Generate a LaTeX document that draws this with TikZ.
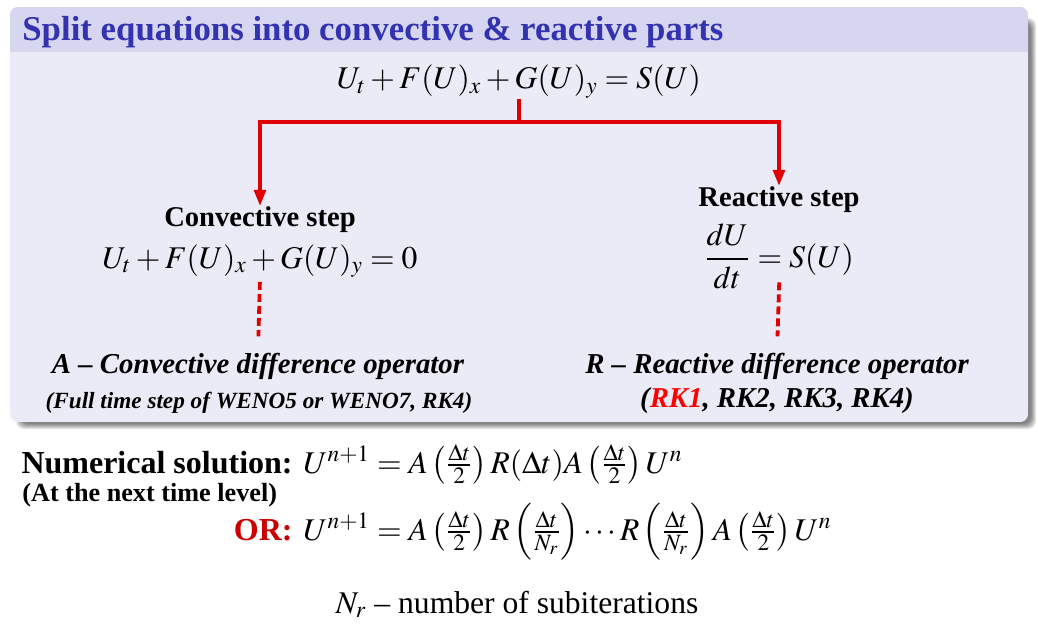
\documentclass[tikz,border=0pt]{standalone}
\usepackage{mathptmx}
\usepackage{fontspec}
\setmainfont{Liberation Serif}
\usepackage{tikz}
\usetikzlibrary{arrows.meta}
\definecolor{struct}{rgb}{0.2,0.2,0.7}
\colorlet{titlebg}{struct!20!white}
\colorlet{bodybg}{struct!10!white}
\definecolor{rouge}{rgb}{0.88,0,0}
\definecolor{rougevif}{rgb}{1,0,0}
\definecolor{rougefonce}{rgb}{0.8,0,0}
\tikzset{
  texte/.style = {inner sep=0pt, anchor=base},
  titre/.style = {texte, anchor=base west, text=struct,
    font=\fontsize{17.4}{20}\selectfont\bfseries},
  eqn/.style = {texte, font=\fontsize{15.8}{19}\selectfont},
  etape/.style = {texte, font=\fontsize{14.3}{17}\selectfont\bfseries},
  oper/.style = {texte, font=\fontsize{14.4}{17}\selectfont\bfseries\itshape},
  remarque/.style = {texte, font=\fontsize{11.6}{14}\selectfont\bfseries\itshape},
  solution/.style = {texte, font=\fontsize{16}{19}\selectfont\bfseries},
  tige/.style = {draw=rouge, line width=1.6pt},
  fleche/.style = {tige, -{Triangle[length=8pt,width=6pt]}},
  pointille/.style = {draw=rouge, line width=1.9pt, dash pattern=on 4pt off 2pt}
}

\begin{document}
\begin{tikzpicture}[x=0.5pt,y=-0.5pt]
  \useasboundingbox (0,0) rectangle (1038,626);
  % block with its shadow
  \foreach \i in {0,...,5}
    \fill[black, opacity=0.1, rounded corners=4pt] (16+\i,18+\i) rectangle (1036-\i,429-\i);
  \begin{scope}
    \clip[rounded corners=4pt] (10,7) rectangle (1028,422);
    \fill[bodybg] (10,7) rectangle (1028,422);
    \fill[titlebg] (10,7) rectangle (1028,52);
  \end{scope}
  \node[titre] (0) at (22,41) {Split equations into convective \& reactive parts};
  \node[eqn] (1) at (519,89) {$U_t+F(U)_x+G(U)_y=S(U)$};
  \coordinate (2) at (519,122);
  \node[etape] (3) at (260,226) {Convective step};
  \node[eqn] (4) at (260,268) {$U_t+F(U)_x+G(U)_y=0$};
  \node[etape] (5) at (779,206) {Reactive step};
  \node[eqn] (6) at (779,267) {$\displaystyle\frac{dU}{dt}=S(U)$};
  \node[oper] (7) at (258,373) {A -- Convective difference operator};
  \node[remarque] (8) at (259,408) {(Full time step of WENO5 or WENO7, RK4)};
  \node[oper] (9) at (777,373) {R -- Reactive difference operator};
  \node[oper] (10) at (777,407) {(\textcolor{rougevif}{RK1}, RK2, RK3, RK4)};
  \node[solution, anchor=base east] (11) at (293,473) {Numerical solution:};
  \node[eqn, anchor=base west] (12) at (303,473)
    {$U^{n+1}=A\left(\frac{\Delta t}{2}\right)R(\Delta t)A\left(\frac{\Delta t}{2}\right)U^n$};
  \node[texte, anchor=base west, font=\fontsize{13.1}{15}\selectfont\bfseries] (13) at (22,501) {(At the next time level)};
  \node[solution, anchor=base east, text=rougefonce] (14) at (293,540) {OR:};
  \node[eqn, anchor=base west] (15) at (303,540)
    {$U^{n+1}=A\left(\frac{\Delta t}{2}\right)R\left(\frac{\Delta t}{N_r}\right)\cdots R\left(\frac{\Delta t}{N_r}\right)A\left(\frac{\Delta t}{2}\right)U^n$};
  \node[eqn] (16) at (517,613) {$N_r$ -- number of subiterations};
  \draw[tige] (1.south) -- (2);
  \draw[fleche] (2) -| (3.north);
  \draw[fleche] (2) -| (5.north);
  \draw[pointille, shorten <=2pt, shorten >=8pt] (4.south) -- (7.north);
  \draw[pointille, shorten <=-3.5pt, shorten >=8pt] (6.south -| 5.north) -- (9.north);
\end{tikzpicture}
\end{document}
